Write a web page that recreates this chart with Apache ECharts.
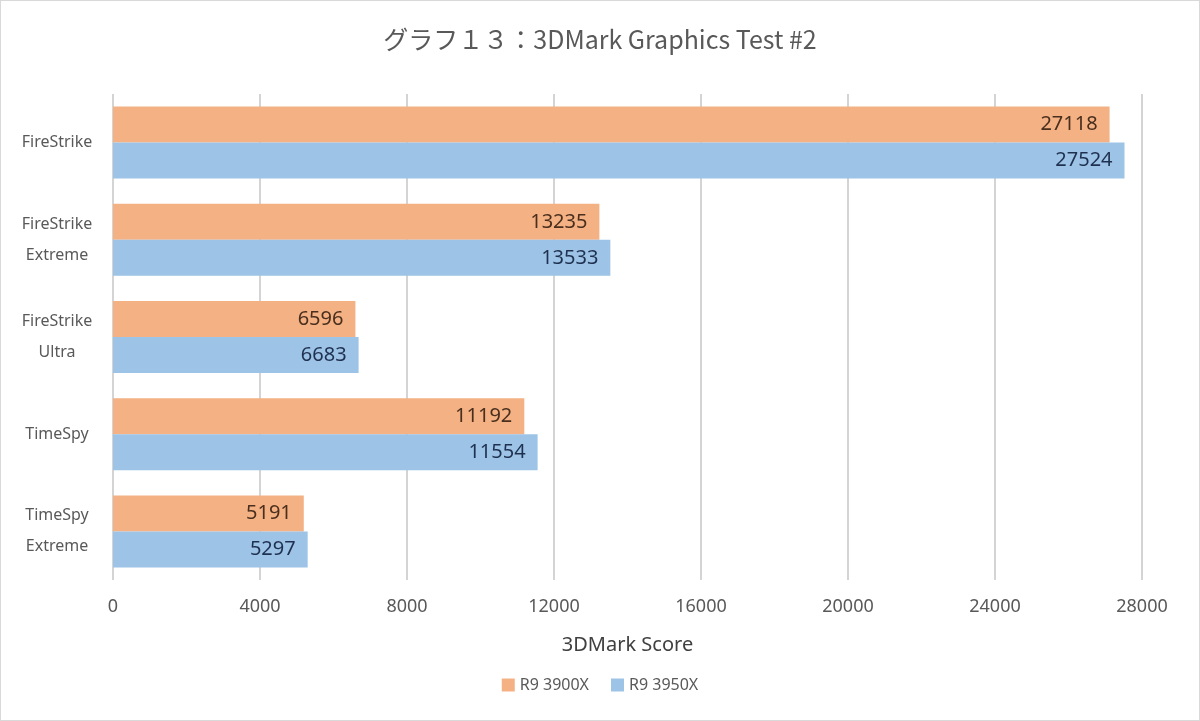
<!DOCTYPE html>
<html><head><meta charset="utf-8">
<script src="https://cdn.jsdelivr.net/npm/echarts@6/dist/echarts.min.js"></script>
<style>
html,body{margin:0;padding:0;background:#fff;}
#frame{position:absolute;left:0;top:0;width:1198px;height:719px;border:1px solid #d9d9d9;}
#c{position:absolute;left:0;top:0;width:1200px;height:721px;}
</style></head>
<body><div id="frame"></div><div id="c"></div>
<script>
const categories = ['FireStrike', 'FireStrike\nExtreme', 'FireStrike\nUltra', 'TimeSpy', 'TimeSpy\nExtreme'];
const seriesNames = ['R9 3900X', 'R9 3950X'];
const r9_3900x = [27118, 13235, 6596, 11192, 5191];
const r9_3950x = [27524, 13533, 6683, 11554, 5297];
const colors = ['#f4b183', '#9dc3e6'];
const labelColors = ['#4a2f1e', '#1f3150'];
const font = '"Noto Sans", "Noto Sans CJK JP", sans-serif';

const chart = echarts.init(document.getElementById('c'));
chart.setOption({
  animation: false,
  textStyle: {fontFamily: font},
  title: {
    text: 'グラフ１３：3DMark Graphics Test #2',
    left: 'center', top: 22,
    textStyle: {fontFamily: '"Noto Sans CJK JP", sans-serif', fontSize: 25, fontWeight: 'normal', color: '#595959'}
  },
  legend: {
    bottom: 23, left: 'center', itemWidth: 13, itemHeight: 13, itemGap: 22,
    icon: 'rect',
    textStyle: {fontSize: 16, color: '#595959', fontFamily: font},
    data: seriesNames
  },
  grid: {left: 113, right: 58, top: 94, bottom: 141, containLabel: false},
  xAxis: {
    type: 'value', min: 0, max: 28000, interval: 4000,
    name: '3DMark Score', nameLocation: 'middle', nameGap: 55,
    nameTextStyle: {fontSize: 20, color: '#404040', fontFamily: font},
    axisLine: {show: false}, axisTick: {show: false},
    axisLabel: {fontSize: 18, color: '#595959', margin: 18, fontFamily: font,
      formatter: v => String(v)},
    splitLine: {lineStyle: {color: '#d4d4d4', width: 2}}
  },
  yAxis: {
    type: 'category', data: categories, inverse: true,
    axisLine: {show: false}, axisTick: {show: false},
    axisLabel: {fontSize: 16, color: '#595959', margin: 56, lineHeight: 31, align: 'center', fontFamily: font},
    splitLine: {show: false}
  },
  series: [
    {name: seriesNames[0], type: 'bar', data: r9_3900x, barWidth: 36, barGap: '0%',
     itemStyle: {color: colors[0]},
     label: {show: true, position: 'insideRight', distance: 12, fontSize: 20, color: labelColors[0], fontFamily: font}},
    {name: seriesNames[1], type: 'bar', data: r9_3950x, barWidth: 36, barGap: '0%',
     itemStyle: {color: colors[1]},
     label: {show: true, position: 'insideRight', distance: 12, fontSize: 20, color: labelColors[1], fontFamily: font}}
  ]
});
</script></body></html>
